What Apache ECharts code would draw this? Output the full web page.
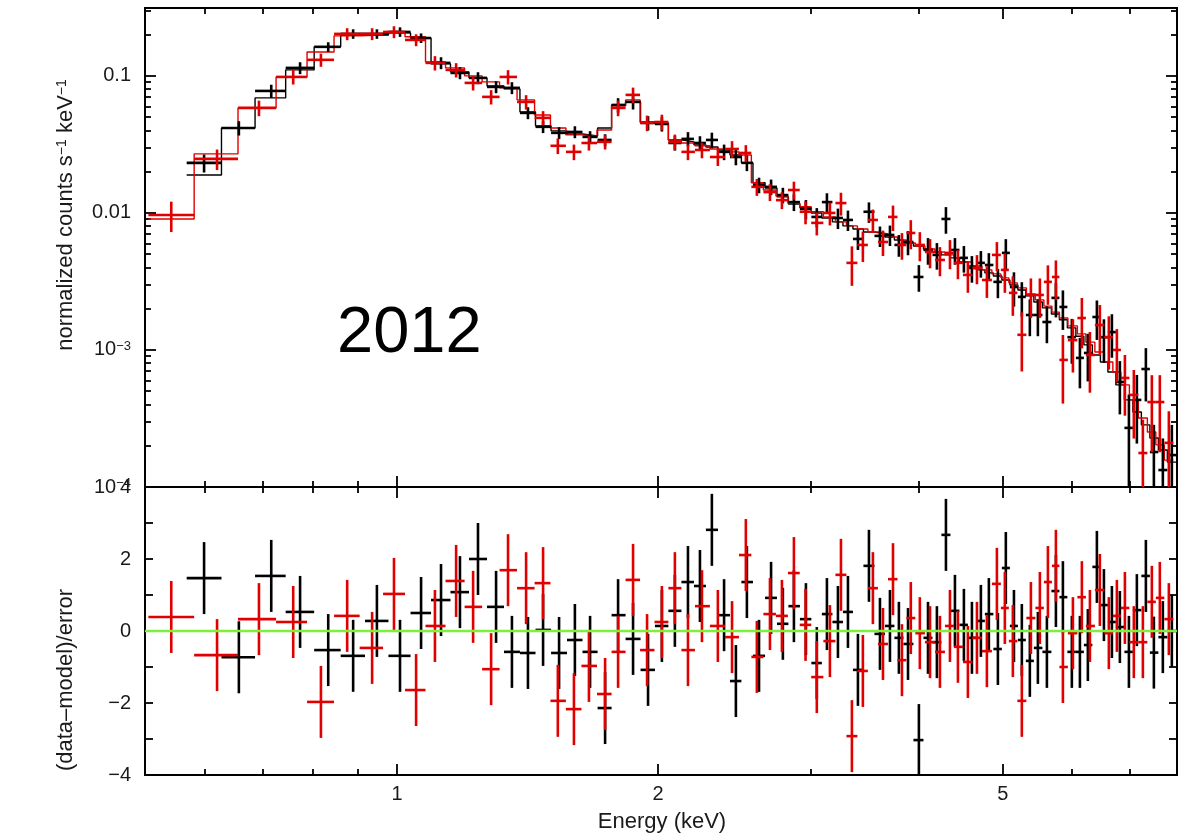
<!DOCTYPE html>
<html>
<head>
<meta charset="utf-8">
<script src="https://cdn.jsdelivr.net/npm/echarts@6.0.0/dist/echarts.min.js"></script>
<style>
html, body { margin: 0; padding: 0; background: #fff; }
#chart { width: 1191px; height: 837px; }
</style>
</head>
<body>
<div id="chart"></div>
<script>
// ---- data ----
// bin centres in keV
var blackE = [0.599, 0.657, 0.716, 0.773, 0.833, 0.890, 0.948, 1.008, 1.066, 1.124,
  1.182, 1.240, 1.301, 1.357, 1.416, 1.474, 1.538, 1.604, 1.670, 1.738,
  1.799, 1.872, 1.948, 2.021, 2.092, 2.166, 2.236, 2.308, 2.384, 2.460,
  2.533, 2.616, 2.701, 2.787, 2.870, 2.963, 3.050, 3.133, 3.226, 3.313,
  3.402, 3.503, 3.607, 3.704, 3.793, 3.886, 4.000, 4.098, 4.196, 4.298,
  4.402, 4.508, 4.605, 4.716, 4.817, 4.934, 5.039, 5.149, 5.258, 5.371,
  5.487, 5.620, 5.756, 5.864, 6.005, 6.135, 6.266, 6.418, 6.539, 6.679,
  6.822, 6.988, 7.137, 7.310, 7.467, 7.647, 7.832];
// normalized counts s^-1 keV^-1
var blackCounts = [0.0232, 0.0417, 0.0777, 0.1144, 0.163, 0.2026, 0.2026, 0.2094, 0.189, 0.1244,
  0.1051, 0.0967, 0.0831, 0.0818, 0.0537, 0.0425, 0.0384, 0.0390, 0.0359, 0.0341,
  0.0614, 0.0646, 0.0454, 0.0446, 0.0324, 0.0347, 0.0324, 0.0341, 0.0279, 0.0256,
  0.0232, 0.0160, 0.0155, 0.0135, 0.0120, 0.0107, 0.00935, 0.0120, 0.00919, 0.00889,
  0.00646, 0.0102, 0.0068, 0.00691, 0.00584, 0.00614, 0.00341, 0.00537, 0.00494, 0.00904,
  0.00537, 0.0047, 0.00397, 0.00432, 0.00417, 0.00314, 0.00511, 0.00288, 0.00244, 0.0018,
  0.0018, 0.0016, 0.0024, 0.00206, 0.00124, 0.000875, 0.000951, 0.00174, 0.00124, 0.00135,
  0.000584, 0.00027, 0.000432, 0.000726, 0.00018, 0.000133, 0.000171];
// relative 1-sigma error of each bin
var blackRelErr = [0.15, 0.12, 0.11, 0.10, 0.08, 0.08, 0.08, 0.08, 0.08, 0.10,
  0.10, 0.10, 0.10, 0.10, 0.10, 0.10, 0.10, 0.10, 0.10, 0.10,
  0.12, 0.12, 0.12, 0.12, 0.12, 0.12, 0.12, 0.13, 0.13, 0.13,
  0.13, 0.13, 0.13, 0.13, 0.14, 0.16, 0.16, 0.16, 0.17, 0.17,
  0.17, 0.17, 0.17, 0.17, 0.18, 0.20, 0.22, 0.22, 0.22, 0.22,
  0.22, 0.22, 0.22, 0.22, 0.22, 0.24, 0.26, 0.28, 0.28, 0.30,
  0.30, 0.30, 0.28, 0.32, 0.36, 0.40, 0.38, 0.32, 0.35, 0.35,
  0.42, 0.75, 0.52, 0.42, 0.58, 0.70, 0.66];
var blackModel = [0.0189, 0.0417, 0.0691, 0.1106, 0.163, 0.199, 0.199, 0.206, 0.189, 0.1224,
  0.107, 0.0967, 0.0845, 0.0804, 0.0546, 0.0432, 0.0397, 0.0377, 0.0365, 0.0417,
  0.0614, 0.0646, 0.0454, 0.0454, 0.0341, 0.033, 0.0314, 0.0303, 0.0288, 0.0265,
  0.0232, 0.0166, 0.0152, 0.0131, 0.0116, 0.0109, 0.0100, 0.00919, 0.0086, 0.00804,
  0.00764, 0.00726, 0.00703, 0.00668, 0.00635, 0.00604, 0.00574, 0.00546, 0.00519, 0.00494,
  0.0047, 0.00439, 0.0041, 0.00384, 0.00365, 0.00347, 0.00324, 0.00298, 0.00274, 0.00248,
  0.00224, 0.00203, 0.00183, 0.00166, 0.00145, 0.00126, 0.00109, 0.00092, 0.000817, 0.000691,
  0.000556, 0.000432, 0.000353, 0.000284, 0.000228, 0.000186, 0.000152];
// (data-model)/error
var blackResid = [1.47, -0.73, 1.53, 0.53, -0.53, -0.69, 0.28, -0.69, 0.5, 0.86,
  1.08, 2.0, 0.67, -0.58, -0.61, 0.03, -0.61, -0.25, -0.58, -2.14,
  0.44, -0.22, -1.08, 0.14, 0.56, 1.36, 1.25, 2.81, 0.44, -1.39,
  1.36, -0.69, 0.92, 0.2, 0.69, 0.33, -0.89, 0.47, 0.25, 0.53,
  -1.08, 1.81, -0.08, 0.14, -0.19, -0.36, -3.03, -0.19, -0.31, 2.67,
  0.56, 0.17, -0.19, 0.28, 0.47, -0.5, 1.75, 0.14, -0.25, -0.83,
  -0.47, -0.58, 1.11, 0.94, -0.58, -0.58, -0.39, 1.78, 0.72, 0.25,
  0.11, -0.58, 0.58, 1.53, -0.6, -0.17, 0];

var redE = [0.549, 0.620, 0.693, 0.759, 0.817, 0.876, 0.936, 0.992, 1.052, 1.106,
  1.170, 1.224, 1.284, 1.343, 1.409, 1.474, 1.533, 1.600, 1.665, 1.738,
  1.799, 1.872, 1.943, 2.021, 2.092, 2.166, 2.248, 2.345, 2.435, 2.526,
  2.601, 2.693, 2.780, 2.870, 2.960, 3.050, 3.158, 3.252, 3.348, 3.447,
  3.540, 3.636, 3.734, 3.824, 3.915, 4.010, 4.120, 4.230, 4.344, 4.437,
  4.556, 4.667, 4.792, 4.921, 5.026, 5.134, 5.258, 5.386, 5.516, 5.635,
  5.756, 5.864, 6.022, 6.167, 6.300, 6.469, 6.625, 6.768, 6.914, 7.080,
  7.252, 7.427, 7.586, 7.770];
var redCounts = [0.00967, 0.0248, 0.0584, 0.0983, 0.131, 0.2026, 0.2026, 0.2094, 0.183, 0.1244,
  0.1106, 0.0889, 0.0703, 0.0983, 0.0646, 0.0494, 0.0309, 0.0279, 0.0324, 0.0330,
  0.0584, 0.0727, 0.0454, 0.0461, 0.0330, 0.0279, 0.0288, 0.0256, 0.0293, 0.0274,
  0.0155, 0.0142, 0.0124, 0.0147, 0.0102, 0.00846, 0.0100, 0.0118, 0.00432, 0.00584,
  0.00889, 0.00614, 0.00935, 0.00584, 0.00714, 0.00584, 0.00519, 0.00454, 0.00511, 0.00432,
  0.00353, 0.00397, 0.00324, 0.00494, 0.00384, 0.00261, 0.00129, 0.00252, 0.00252, 0.00314,
  0.00341, 0.000846, 0.00118, 0.00171, 0.00092, 0.00152, 0.00124, 0.0010, 0.000625, 0.00047,
  0.000177, 0.000417, 0.000417, 0.00021];
var redRelErr = [0.25, 0.17, 0.13, 0.12, 0.11, 0.10, 0.10, 0.10, 0.10, 0.12,
  0.12, 0.12, 0.12, 0.12, 0.12, 0.12, 0.13, 0.13, 0.12, 0.12,
  0.13, 0.13, 0.13, 0.13, 0.13, 0.13, 0.13, 0.14, 0.14, 0.14,
  0.14, 0.14, 0.14, 0.15, 0.19, 0.19, 0.19, 0.19, 0.32, 0.25,
  0.19, 0.21, 0.21, 0.22, 0.24, 0.24, 0.24, 0.24, 0.24, 0.24,
  0.26, 0.24, 0.26, 0.24, 0.32, 0.32, 0.46, 0.32, 0.32, 0.32,
  0.32, 0.52, 0.42, 0.40, 0.47, 0.40, 0.42, 0.42, 0.47, 0.52,
  0.75, 0.57, 0.57, 0.70];
var redModel = [0.00904, 0.027, 0.0584, 0.0983, 0.1496, 0.196, 0.199, 0.206, 0.193, 0.1265,
  0.1144, 0.100, 0.0904, 0.0818, 0.0668, 0.0519, 0.0417, 0.0371, 0.0365, 0.0403,
  0.0604, 0.0668, 0.0461, 0.0446, 0.0341, 0.0324, 0.0309, 0.0293, 0.0279, 0.0265,
  0.0166, 0.0147, 0.0133, 0.0118, 0.0111, 0.0102, 0.00935, 0.0086, 0.00804, 0.00764,
  0.00726, 0.00703, 0.00668, 0.00635, 0.00604, 0.00574, 0.00546, 0.00519, 0.00494, 0.0047,
  0.00439, 0.0041, 0.00384, 0.00359, 0.00336, 0.00309, 0.00284, 0.00256, 0.00232, 0.00209,
  0.00189, 0.00171, 0.0015, 0.00131, 0.00114, 0.000967, 0.000817, 0.000691, 0.000556, 0.000432,
  0.000319, 0.000252, 0.000203, 0.000157];
var redResid = [0.39, -0.67, 0.33, 0.25, -1.97, 0.42, -0.47, 1.03, -1.64, 0.14,
  1.39, 0.67, -1.06, 1.69, 1.19, 1.33, -1.94, -2.17, -0.97, -1.75,
  -0.58, 1.42, -0.53, 0.25, 1.19, -0.53, 0.69, 0.14, -0.17, 2.11,
  -0.72, 0.47, 0.42, 1.61, 0.17, -1.28, -0.28, 1.56, -2.92, -1.11,
  1.19, -0.36, 1.44, -0.81, 0.36, -0.06, -0.31, -0.58, 0.14, -0.44,
  -0.86, -0.19, -0.56, 1.31, 0.64, -0.28, -1.94, 0.36, 0.64, 1.36,
  1.81, -1.0, -0.06, 0.94, 0.14, 1.14, -0.06, 0.42, 0.64, -0.31,
  -0.31, 0.81, 0.92, 0.33];

// tick labels
var xMajorTicks = [1, 2, 5];
var xMinorTicks = [0.6, 0.7, 0.8, 0.9, 3, 4, 6, 7];
var resMajorTicks = [-4, -2, 0, 2, 4];
var resMinorTicks = [-3, -1, 1, 3];

// ---- axes are in log10 units ----
var lg = Math.log10;
var X_MIN = lg(0.512), X_MAX = lg(7.94);
var TOP_MIN = -4, TOP_MAX = lg(0.313);
var RES_MIN = -4, RES_MAX = 4;

var topMajor = [-4, -3, -2, -1];
var topMinor = [];
for (var n = -4; n < 0; n++) {
  for (var k = 2; k <= 9; k++) {
    if (n + lg(k) <= TOP_MAX) topMinor.push(n + lg(k));
  }
}

function binEdges(E) {
  var c = E.map(lg), lo = [], hi = [];
  for (var i = 0; i < c.length; i++) {
    var l = i > 0 ? (c[i - 1] + c[i]) / 2 : c[0] - (c[1] - c[0]) / 2;
    var h = i < c.length - 1 ? (c[i] + c[i + 1]) / 2 : c[i] + (c[i] - c[i - 1]) / 2;
    lo.push(Math.max(l, X_MIN));
    hi.push(Math.min(h, X_MAX));
  }
  return { c: c, lo: lo, hi: hi };
}

function spectrumData(E, v, rel) {
  var b = binEdges(E);
  return v.map(function (y, i) {
    return [b.c[i], b.lo[i], b.hi[i], lg(y),
      Math.max(lg(y * (1 - rel[i])), TOP_MIN), Math.min(lg(y * (1 + rel[i])), TOP_MAX)];
  });
}
function residData(E, r) {
  var b = binEdges(E);
  return r.map(function (y, i) {
    return [b.c[i], b.lo[i], b.hi[i], y, Math.max(y - 1, RES_MIN), Math.min(y + 1, RES_MAX)];
  });
}
function modelData(E, m) {
  var b = binEdges(E), out = [];
  m.forEach(function (y, i) {
    out.push([b.lo[i], lg(y)]);
    out.push([b.hi[i], lg(y)]);
  });
  return out;
}

function renderCross(params, api) {
  var c = api.coord([api.value(0), api.value(3)]);
  var lo = api.coord([api.value(1), api.value(3)]);
  var hi = api.coord([api.value(2), api.value(3)]);
  var yl = api.coord([api.value(0), api.value(4)]);
  var yh = api.coord([api.value(0), api.value(5)]);
  var st = { stroke: api.visual('color'), lineWidth: 2.6 };
  return {
    type: 'group',
    children: [
      { type: 'line', shape: { x1: lo[0], y1: c[1], x2: hi[0], y2: c[1] }, style: st },
      { type: 'line', shape: { x1: c[0], y1: yl[1], x2: c[0], y2: yh[1] }, style: st }
    ]
  };
}

var FONT = 'Liberation Sans, Arial, Helvetica, sans-serif';

function xAx(g, pos, ticks, len, labels) {
  var vals = ticks.map(lg);
  return {
    type: 'value', gridIndex: g, position: pos, min: X_MIN, max: X_MAX,
    axisLine: { show: true, onZero: false, lineStyle: { color: '#000', width: 2 } },
    axisTick: { show: true, inside: true, length: len, customValues: vals, lineStyle: { color: '#000', width: 1.8 } },
    axisLabel: labels ? {
      show: true, customValues: vals, margin: 9, fontSize: 20, color: '#1a1a1a', fontFamily: FONT,
      formatter: function (v) { return String(Math.round(Math.pow(10, v))); }
    } : { show: false },
    splitLine: { show: false }
  };
}
function yAx(g, pos, vals, len, min, max, fmt) {
  return {
    type: 'value', gridIndex: g, position: pos, min: min, max: max,
    axisLine: { show: true, onZero: false, lineStyle: { color: '#000', width: 2 } },
    axisTick: { show: true, inside: true, length: len, customValues: vals, lineStyle: { color: '#000', width: 1.8 } },
    axisLabel: fmt ? {
      show: true, customValues: vals, margin: 14, fontSize: 20, color: '#1a1a1a', fontFamily: FONT,
      showMinLabel: true, showMaxLabel: true,
      formatter: fmt,
      rich: {
        n: { fontSize: 20, fontFamily: FONT, color: '#1a1a1a' },
        sup: { fontSize: 13, fontFamily: FONT, color: '#1a1a1a', verticalAlign: 'top' }
      }
    } : { show: false },
    splitLine: { show: false }
  };
}

function topFmt(v) {
  var e = Math.round(v);
  if (e === -1) return '0.1';
  if (e === -2) return '0.01';
  return '{n|10}{sup|\u2212' + (-e) + '}';
}
function resFmt(v) {
  var r = Math.round(v);
  return r < 0 ? '\u2212' + (-r) : String(r);
}

var chart = echarts.init(document.getElementById('chart'));

var option = {
  backgroundColor: '#fff',
  animation: false,
  grid: [
    { left: 145, top: 8, width: 1032, height: 479 },
    { left: 145, top: 487, width: 1032, height: 288 }
  ],
  xAxis: [
    xAx(0, 'bottom', xMajorTicks, 11, false),
    xAx(0, 'bottom', xMinorTicks, 6, false),
    xAx(0, 'top', xMajorTicks, 11, false),
    xAx(0, 'top', xMinorTicks, 6, false),
    xAx(1, 'bottom', xMajorTicks, 11, true),
    xAx(1, 'bottom', xMinorTicks, 6, false),
    xAx(1, 'top', xMajorTicks, 11, false),
    xAx(1, 'top', xMinorTicks, 6, false)
  ],
  yAxis: [
    yAx(0, 'left', topMajor, 11, TOP_MIN, TOP_MAX, topFmt),
    yAx(0, 'left', topMinor, 6, TOP_MIN, TOP_MAX, null),
    yAx(0, 'right', topMajor, 11, TOP_MIN, TOP_MAX, null),
    yAx(0, 'right', topMinor, 6, TOP_MIN, TOP_MAX, null),
    yAx(1, 'left', resMajorTicks, 8, RES_MIN, RES_MAX, resFmt),
    yAx(1, 'left', resMinorTicks, 8, RES_MIN, RES_MAX, null),
    yAx(1, 'right', resMajorTicks, 8, RES_MIN, RES_MAX, null),
    yAx(1, 'right', resMinorTicks, 8, RES_MIN, RES_MAX, null)
  ],
  series: [
    {
      type: 'line', xAxisIndex: 0, yAxisIndex: 0, data: modelData(blackE, blackModel),
      symbol: 'none', silent: true, lineStyle: { color: '#000', width: 1.4 }, z: 2
    },
    {
      type: 'line', xAxisIndex: 0, yAxisIndex: 0, data: modelData(redE, redModel),
      symbol: 'none', silent: true, lineStyle: { color: '#e00000', width: 1.4 }, z: 2
    },
    {
      type: 'custom', xAxisIndex: 0, yAxisIndex: 0, renderItem: renderCross,
      data: spectrumData(blackE, blackCounts, blackRelErr), itemStyle: { color: '#000' }, z: 3
    },
    {
      type: 'custom', xAxisIndex: 0, yAxisIndex: 0, renderItem: renderCross,
      data: spectrumData(redE, redCounts, redRelErr), itemStyle: { color: '#e00000' }, z: 3
    },
    {
      type: 'custom', xAxisIndex: 4, yAxisIndex: 4, renderItem: renderCross,
      data: residData(blackE, blackResid), itemStyle: { color: '#000' }, z: 3
    },
    {
      type: 'custom', xAxisIndex: 4, yAxisIndex: 4, renderItem: renderCross,
      data: residData(redE, redResid), itemStyle: { color: '#e00000' }, z: 3
    },
    {
      type: 'line', xAxisIndex: 4, yAxisIndex: 4, data: [[X_MIN, 0], [X_MAX, 0]],
      symbol: 'none', silent: true, lineStyle: { color: '#7df03c', width: 2.5 }, z: 5
    }
  ],
  graphic: [
    {
      type: 'text', x: 337, y: 334,
      style: { text: '2012', font: '65px ' + FONT, fill: '#000', textAlign: 'left', textVerticalAlign: 'middle' }
    },
    {
      type: 'text', x: 66, y: 215, rotation: Math.PI / 2,
      style: {
        text: '{n|normalized counts s}{sup|\u22121}{n| keV}{sup|\u22121}',
        textAlign: 'center', textVerticalAlign: 'middle',
        rich: {
          n: { fontSize: 22, fontFamily: FONT, fill: '#1a1a1a' },
          sup: { fontSize: 14, fontFamily: FONT, fill: '#1a1a1a', verticalAlign: 'top' }
        }
      }
    },
    {
      type: 'text', x: 66, y: 680, rotation: Math.PI / 2,
      style: { text: '(data\u2013model)/error', font: '22px ' + FONT, fill: '#1a1a1a', textAlign: 'center', textVerticalAlign: 'middle' }
    },
    {
      type: 'text', x: 662, y: 822,
      style: { text: 'Energy (keV)', font: '22px ' + FONT, fill: '#1a1a1a', textAlign: 'center', textVerticalAlign: 'middle' }
    }
  ]
};

chart.setOption(option);
</script>
</body>
</html>
